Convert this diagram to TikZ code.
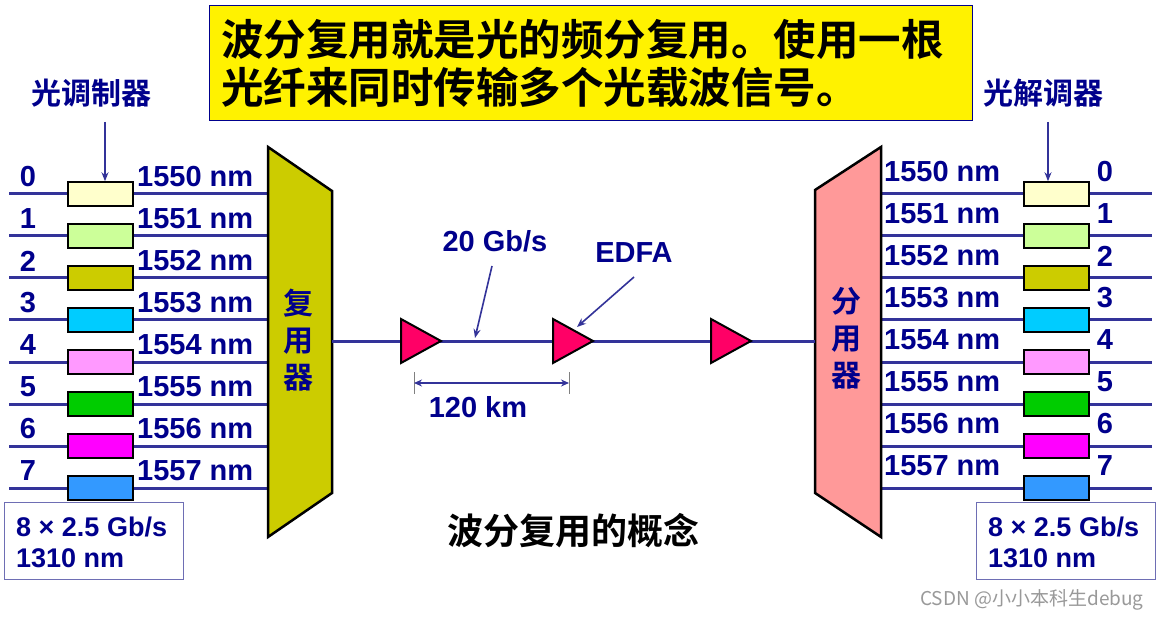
\documentclass[tikz,border=0pt]{standalone}
\usepackage{fontspec}
\setmainfont{Liberation Sans}
\newfontfamily\cjk{Noto Sans CJK SC Bold}
\newfontfamily\cjkr{Noto Sans CJK SC}
\usetikzlibrary{arrows.meta}
\definecolor{navy}{RGB}{0,0,140}
\definecolor{lineblue}{RGB}{51,51,153}
\definecolor{muxc}{RGB}{204,204,0}
\definecolor{demuxc}{RGB}{255,153,153}
\definecolor{ampc}{RGB}{255,0,102}
\definecolor{infob}{RGB}{110,110,180}
\definecolor{c0}{RGB}{255,255,204}
\definecolor{c1}{RGB}{204,255,153}
\definecolor{c2}{RGB}{204,204,0}
\definecolor{c3}{RGB}{0,204,255}
\definecolor{c4}{RGB}{255,153,255}
\definecolor{c5}{RGB}{0,204,0}
\definecolor{c6}{RGB}{255,0,255}
\definecolor{c7}{RGB}{51,153,255}
\tikzset{
  fiber/.style={draw=lineblue, line width=3pt},
  modbox/.style={draw=black, line width=1.5pt, minimum width=65pt, minimum height=24pt, inner sep=0pt},
  lab/.style={text=navy, font=\fontsize{29}{34}\selectfont\bfseries, inner sep=0pt},
  cjklab/.style={text=navy, font=\cjk\fontsize{30}{36}\selectfont, inner sep=0pt},
  pointer/.style={draw=lineblue, line width=1.6pt, -{Stealth[length=9pt,width=7pt]}},
  trap/.style={draw=black, line width=2.5pt, line join=miter},
  amp/.style={draw=black, line width=2pt, fill=ampc, line join=miter},
  infobox/.style={draw=infob, line width=1.3pt, minimum width=179pt, minimum height=77pt, inner sep=0pt},
  infotext/.style={inner sep=0pt, align=left, text=navy, font=\fontsize{27}{31}\selectfont\bfseries}
}
\begin{document}
\begin{tikzpicture}[x=1pt,y=-1pt]
\useasboundingbox (0,0) rectangle (1162,620);
\fill[white] (0,0) rectangle (1162,620);

% top text box
\node[draw=navy, line width=1pt, fill=yellow, minimum width=763pt, minimum height=115pt,
      inner xsep=12pt, text width=739pt, align=left,
      font=\cjk\fontsize{42.5}{48}\selectfont] (head) at (590.5,63.5)
  {波分复用就是光的频分复用。使用一根\\光纤来同时传输多个光载波信号。};

% channel lines, modulators and labels
\foreach \i/\c in {0/c0,1/c1,2/c2,3/c3,4/c4,5/c5,6/c6,7/c7}{
  \pgfmathsetmacro\yy{194+42*\i}
  \coordinate (ls\i) at (9,\yy);
  \coordinate (le\i) at (268,\yy);
  \draw[fiber] (ls\i) -- (le\i);
  \node[modbox, fill=\c] (lb\i) at (100.5,\yy) {};
  \node[lab] (ln\i) at (28,\yy-17) {\i};
  \node[lab, anchor=west] (lw\i) at (137,\yy-17) {155\i\ nm};
  % right side
  \coordinate (rs\i) at (881,\yy);
  \coordinate (re\i) at (1152,\yy);
  \draw[fiber] (rs\i) -- (re\i);
  \node[modbox, fill=\c] (rb\i) at (1056.5,\yy) {};
  \node[lab] (rn\i) at (1105,\yy-22) {\i};
  \node[lab, anchor=west] (rw\i) at (884,\yy-22) {155\i\ nm};
}

% multiplexer and demultiplexer
\draw[trap, fill=muxc] (268,147) -- (332,191) -- (332,493) -- (268,537) -- cycle;
\draw[trap, fill=demuxc] (815,190) -- (881,147) -- (881,537) -- (815,493) -- cycle;
\node[cjklab, align=center, font=\cjk\fontsize{30}{37}\selectfont] (muxt) at (298,340) {复\\用\\器};
\node[cjklab, align=center, font=\cjk\fontsize{30}{37}\selectfont] (demuxt) at (846,338) {分\\用\\器};

% fiber link
\coordinate (mout) at (332,341);
\coordinate (din) at (815,341);
\draw[fiber] (mout) -- (din);
\foreach \k/\x in {1/401,2/553,3/711}{
  \coordinate (amp\k) at (\x+20,341);
  \draw[amp] (\x,319) -- (\x+40,341) -- (\x,363) -- cycle;
}

% modulator / demodulator labels
\node[cjklab] (modl) at (91,93) {光调制器};
\node[cjklab] (demodl) at (1043,93) {光解调器};
\coordinate (modtop) at (105,122);
\coordinate (demodtop) at (1048,122);
\draw[draw=lineblue, line width=1.3pt, -{Stealth[length=9pt,width=7pt]}] (modtop) -- (lb0.north -| modtop);
\draw[draw=lineblue, line width=1.3pt, -{Stealth[length=9pt,width=7pt]}] (demodtop) -- (rb0.north -| demodtop);

% link labels
\node[lab] (rate) at (495,241) {20 Gb/s};
\node[lab] (edfa) at (634,253) {EDFA};
\coordinate (ratetail) at (492,266);
\coordinate (ratehead) at (475,338);
\coordinate (edfatail) at (634,277);
\coordinate (edfahead) at (577,327);
\draw[pointer] (ratetail) -- (ratehead);
\draw[pointer] (edfatail) -- (edfahead);

% dimension
\coordinate (d1t) at (414,372); \coordinate (d1b) at (414,394);
\coordinate (d2t) at (569,372); \coordinate (d2b) at (569,394);
\draw[gray, line width=1pt] (d1t) -- (d1b);
\draw[gray, line width=1pt] (d2t) -- (d2b);
\coordinate (d1) at (414,383); \coordinate (d2) at (569,383);
\draw[draw=lineblue, line width=2pt, {Stealth[length=8pt,width=7pt]}-{Stealth[length=8pt,width=7pt]}] (d1) -- (d2);
\node[lab] (dist) at (478,407) {120 km};

% info boxes
\node[infobox, anchor=north west] (infoL) at (4,502) {};
\node[infotext, anchor=west] (infoLt) at (16,542) {8 × 2.5 Gb/s\\1310 nm};
\node[infobox, anchor=north west] (infoR) at (976,502) {};
\node[infotext, anchor=west] (infoRt) at (988,542) {8 × 2.5 Gb/s\\1310 nm};

% caption
\node[inner sep=0pt, font=\cjk\fontsize{36}{40}\selectfont] (cap) at (573,531) {波分复用的概念};

% watermark
\node[inner sep=0pt, text=gray!80, font=\cjkr\fontsize{19}{22}\selectfont] (wm) at (1032,600) {CSDN @小小本科生debug};
\end{tikzpicture}
\end{document}
